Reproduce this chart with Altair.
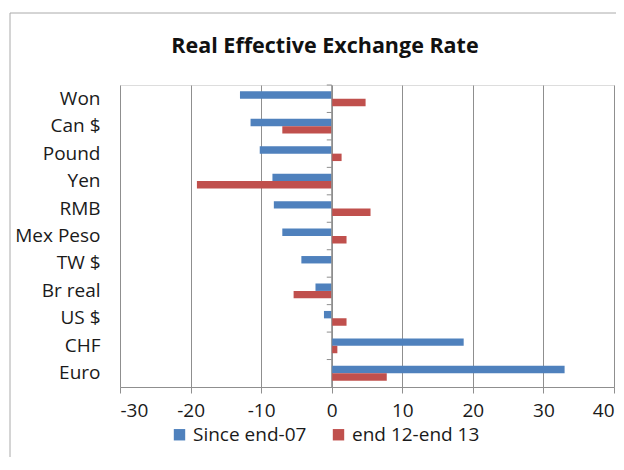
import altair as alt
import pandas as pd

categories = ["Won", "Can $", "Pound", "Yen", "RMB", "Mex Peso", "TW $", "Br real", "US $", "CHF", "Euro"]
since_end07 = [-13.0, -11.5, -10.2, -8.4, -8.2, -7.0, -4.3, -2.3, -1.1, 18.7, 33.0]
end12_end13 = [4.8, -7.0, 1.4, -19.1, 5.5, 2.1, 0.0, -5.4, 2.1, 0.8, 7.8]
series_names = ["Since end-07", "end 12-end 13"]
series_colors = ["#4F81BD", "#C0504D"]
x_ticks = [-30, -20, -10, 0, 10, 20, 30, 40]
title_text = "Real Effective Exchange Rate"

rows = []
for c, a, b in zip(categories, since_end07, end12_end13):
    rows.append({"cat": c, "series": series_names[0], "value": a})
    rows.append({"cat": c, "series": series_names[1], "value": b})
df = pd.DataFrame(rows)
cat_df = pd.DataFrame({"cat": categories})
one = pd.DataFrame({"t": [title_text]})

FONT = "Open Sans"
GRAY = "#8f8f8f"
TXT = "#1a1a1a"

yscale = alt.Scale(domain=categories, paddingInner=0, paddingOuter=0)

bars = alt.Chart(df).mark_bar().encode(
    y=alt.Y("cat:N", sort=categories, scale=yscale,
            axis=alt.Axis(title=None, ticks=False, domain=False, labelPadding=20,
                          labelFontSize=19, labelFont=FONT, labelColor=TXT)),
    yOffset=alt.YOffset("series:N", sort=series_names,
                        scale=alt.Scale(paddingOuter=0.85, paddingInner=0)),
    x=alt.X("value:Q", scale=alt.Scale(domain=[-30, 40], nice=False),
            axis=alt.Axis(title=None, values=x_ticks, grid=True, gridColor=GRAY,
                          domainColor=GRAY, tickColor=GRAY, tickSize=6, labelPadding=8,
                          labelExpr="'' + datum.value",
                          labelFontSize=19, labelFont=FONT, labelColor=TXT)),
    color=alt.Color("series:N", sort=series_names,
                    scale=alt.Scale(domain=series_names, range=series_colors),
                    legend=alt.Legend(title=None, orient="none", direction="horizontal",
                                      legendX=50, legendY=340, symbolType="square",
                                      symbolSize=130, symbolStrokeWidth=0,
                                      labelFontSize=19, labelFont=FONT, labelColor=TXT,
                                      columnPadding=22, symbolOffset=0, labelOffset=4)),
)

zero_line = alt.Chart(pd.DataFrame({"v": [0]})).mark_rule(color=GRAY, strokeWidth=1).encode(
    x=alt.X("v:Q"), y=alt.value(0), y2=alt.value(302)
)

cat_ticks = alt.Chart(cat_df).mark_rule(color=GRAY, strokeWidth=1).encode(
    y=alt.Y("cat:N", sort=categories, bandPosition=0),
    x=alt.datum(0), x2=alt.datum(-0.7)
)

frame = alt.Chart(one).mark_rect(fill=None, stroke="#aaaaaa", strokeWidth=1).encode(
    x=alt.value(-110), x2=alt.value(800), y=alt.value(-72), y2=alt.value(600)
)

title = alt.Chart(one).mark_text(font=FONT, fontSize=21.5, fontWeight="bold", color="#111",
                                 align="center", baseline="middle").encode(
    text="t:N", x=alt.value(205), y=alt.value(-38)
)

chart = alt.layer(frame, bars, zero_line, cat_ticks, title).properties(
    width=494, height=302,
    autosize=alt.AutoSizeParams(type="none"),
    padding={"left": 112, "top": 77, "right": 2, "bottom": 70},
).configure_view(stroke=None).configure(background="white")

chart.save("out.html", embed_options={"renderer": "svg", "actions": False})
